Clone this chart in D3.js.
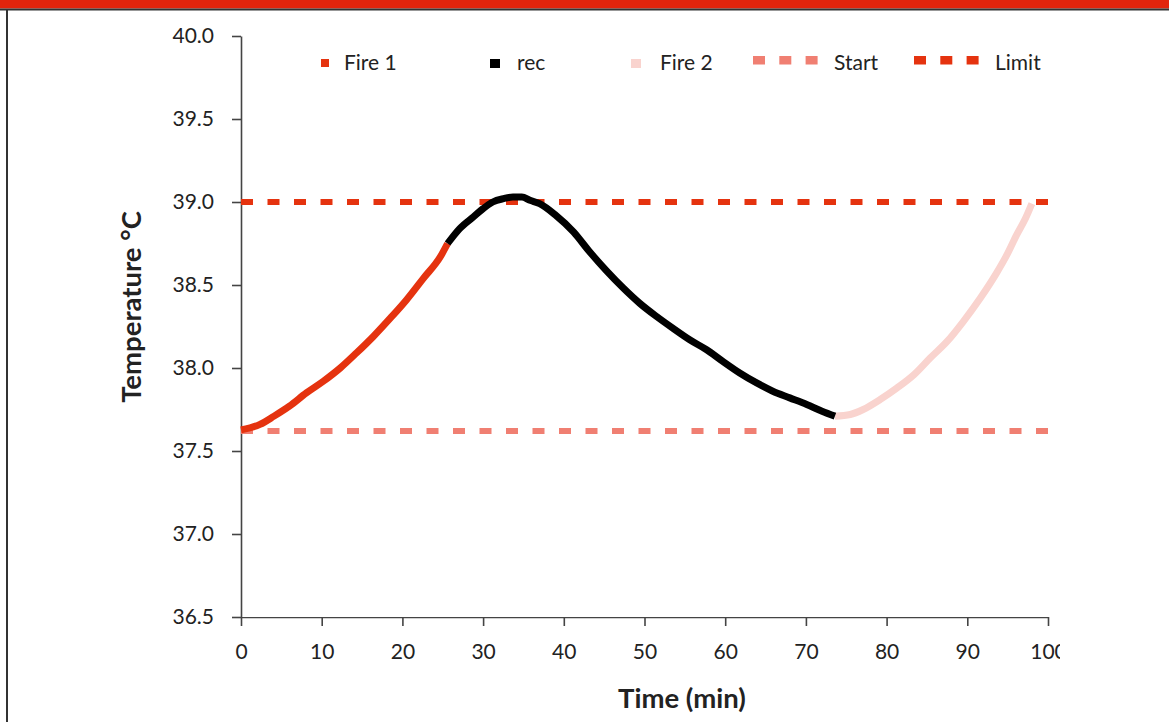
<!DOCTYPE html>
<html>
<head>
<meta charset="utf-8">
<script src="https://cdn.jsdelivr.net/npm/d3@7"></script>
<style>
  html, body { margin: 0; padding: 0; background: #fff; }
  svg { display: block; }
  text { font-family: Lato, "Open Sans", sans-serif; fill: #222; }
</style>
</head>
<body>
<svg id="chart" width="1169" height="722"></svg>
<script>
// ---- data ----
const fire1Time = [0, 2.35, 4.1, 6, 8.1, 10.2, 12.3, 14.3, 16.4, 18.5, 20.5, 22.6, 24.7, 25.6];
const fire1Temp = [37.627, 37.66, 37.71, 37.77, 37.85, 37.92, 38.00, 38.09, 38.19, 38.30, 38.41, 38.54, 38.67, 38.75];

const recTime = [25.6, 27.1, 28.8, 30.0, 31.2, 32.5, 33.7, 34.8, 35.8, 37.0, 39.0, 41.2, 43.2, 45.3, 47.4, 49.4, 51.5, 53.5, 55.6, 57.7, 59.7, 61.8, 63.9, 65.9, 68.0, 70.1, 72.0, 73.6];
const recTemp = [38.75, 38.84, 38.91, 38.96, 39.00, 39.02, 39.03, 39.03, 39.01, 38.99, 38.92, 38.82, 38.70, 38.585, 38.48, 38.39, 38.31, 38.24, 38.17, 38.11, 38.04, 37.97, 37.91, 37.86, 37.82, 37.78, 37.74, 37.71];

const fire2Time = [73.6, 75.5, 77.1, 79.2, 81.3, 83.4, 85.4, 87.5, 89.5, 91.6, 93.6, 95.0, 96.1, 97.2, 98.0];
const fire2Temp = [37.71, 37.72, 37.75, 37.81, 37.88, 37.96, 38.06, 38.16, 38.28, 38.42, 38.57, 38.69, 38.80, 38.90, 38.99];

const startLevel = 37.62;
const limitLevel = 39.0;

const xTicks = [0, 10, 20, 30, 40, 50, 60, 70, 80, 90, 100];
const yTicks = [36.5, 37.0, 37.5, 38.0, 38.5, 39.0, 39.5, 40.0];

const legendLabels = ["Fire 1", "rec", "Fire 2", "Start", "Limit"];
const colors = { fire1: "#e5330f", rec: "#000000", fire2: "#f9d3ce", start: "#f07f72", limit: "#e5330f" };

// ---- chart ----
const svg = d3.select("#chart");
const x = d3.scaleLinear().domain([0, 100]).range([241, 1048]);
const y = d3.scaleLinear().domain([36.5, 40]).range([617, 36]);

// frame: top bar + left border
svg.append("rect").attr("x", 0).attr("y", 0).attr("width", 1169).attr("height", 8.5).attr("fill", "#e3240c");
svg.append("line").attr("x1", 0).attr("x2", 1169).attr("y1", 9.5).attr("y2", 9.5).attr("stroke", "#333").attr("stroke-width", 2);
svg.append("line").attr("x1", 7).attr("x2", 7).attr("y1", 9).attr("y2", 722).attr("stroke", "#333").attr("stroke-width", 2);

// clip for x labels (the "100" is cut)
svg.append("clipPath").attr("id", "clipX").append("rect").attr("x", 0).attr("y", 0).attr("width", 1060).attr("height", 722);

const yAxis = svg.append("g").attr("transform", `translate(${x(0)},0)`)
  .call(d3.axisLeft(y).tickValues(yTicks).tickFormat(d3.format(".1f")).tickSize(9).tickSizeOuter(0).tickPadding(18));
const xAxis = svg.append("g").attr("transform", `translate(0,${y(36.5)})`).attr("clip-path", "url(#clipX)")
  .call(d3.axisBottom(x).tickValues(xTicks).tickFormat(d3.format("d")).tickSize(9).tickSizeOuter(0).tickPadding(18));
[yAxis, xAxis].forEach(g => {
  g.selectAll("path, line").attr("stroke", "#444").attr("stroke-width", 1.6);
  g.selectAll("text").attr("font-size", 21).attr("fill", "#222").style("font-family", "Lato, 'Open Sans', sans-serif");
});

// reference lines
function hLine(level, color) {
  svg.append("line").attr("x1", x(0)).attr("x2", x(100)).attr("y1", y(level)).attr("y2", y(level))
    .attr("stroke", color).attr("stroke-width", 6).attr("stroke-dasharray", "12,14.5");
}
hLine(startLevel, colors.start);
hLine(limitLevel, colors.limit);

// series
const line = d3.line().x(d => x(d[0])).y(d => y(d[1])).curve(d3.curveMonotoneX);
function series(t, v, color) {
  svg.append("path").datum(t.map((d, i) => [d, v[i]])).attr("d", line)
    .attr("fill", "none").attr("stroke", color).attr("stroke-width", 7).attr("stroke-linejoin", "round");
}
series(fire1Time, fire1Temp, colors.fire1);
series(fire2Time, fire2Temp, colors.fire2);
series(recTime, recTemp, colors.rec);

// legend
const lg = svg.append("g");
const items = [
  { label: legendLabels[0], kind: "sq", color: colors.fire1, x: 321, w: 8, tx: 344 },
  { label: legendLabels[1], kind: "sq", color: colors.rec, x: 490, w: 10, tx: 517 },
  { label: legendLabels[2], kind: "sq", color: colors.fire2, x: 631, w: 10, tx: 660 },
  { label: legendLabels[3], kind: "dash", color: colors.start, x: 753, tx: 834 },
  { label: legendLabels[4], kind: "dash", color: colors.limit, x: 914, tx: 995 }
];
items.forEach(it => {
  if (it.kind === "sq") {
    lg.append("rect").attr("x", it.x).attr("y", 59).attr("width", it.w).attr("height", it.w === 8 ? 8 : 9).attr("fill", it.color);
  } else {
    for (let k = 0; k < 3; k++) {
      lg.append("rect").attr("x", it.x + k * 26.3).attr("y", 56).attr("width", 12).attr("height", 8.5).attr("fill", it.color);
    }
  }
  lg.append("text").attr("x", it.tx).attr("y", 70).attr("font-size", 21).text(it.label);
});

// axis titles
svg.append("text").attr("x", 682).attr("y", 708).attr("text-anchor", "middle")
  .attr("font-size", 27.5).attr("font-weight", "bold").attr("fill", "#111").text("Time (min)");
svg.append("text").attr("transform", "translate(141,307) rotate(-90)").attr("text-anchor", "middle")
  .attr("font-size", 27.5).attr("font-weight", "bold").attr("fill", "#111").text("Temperature °C");
</script>
</body>
</html>
